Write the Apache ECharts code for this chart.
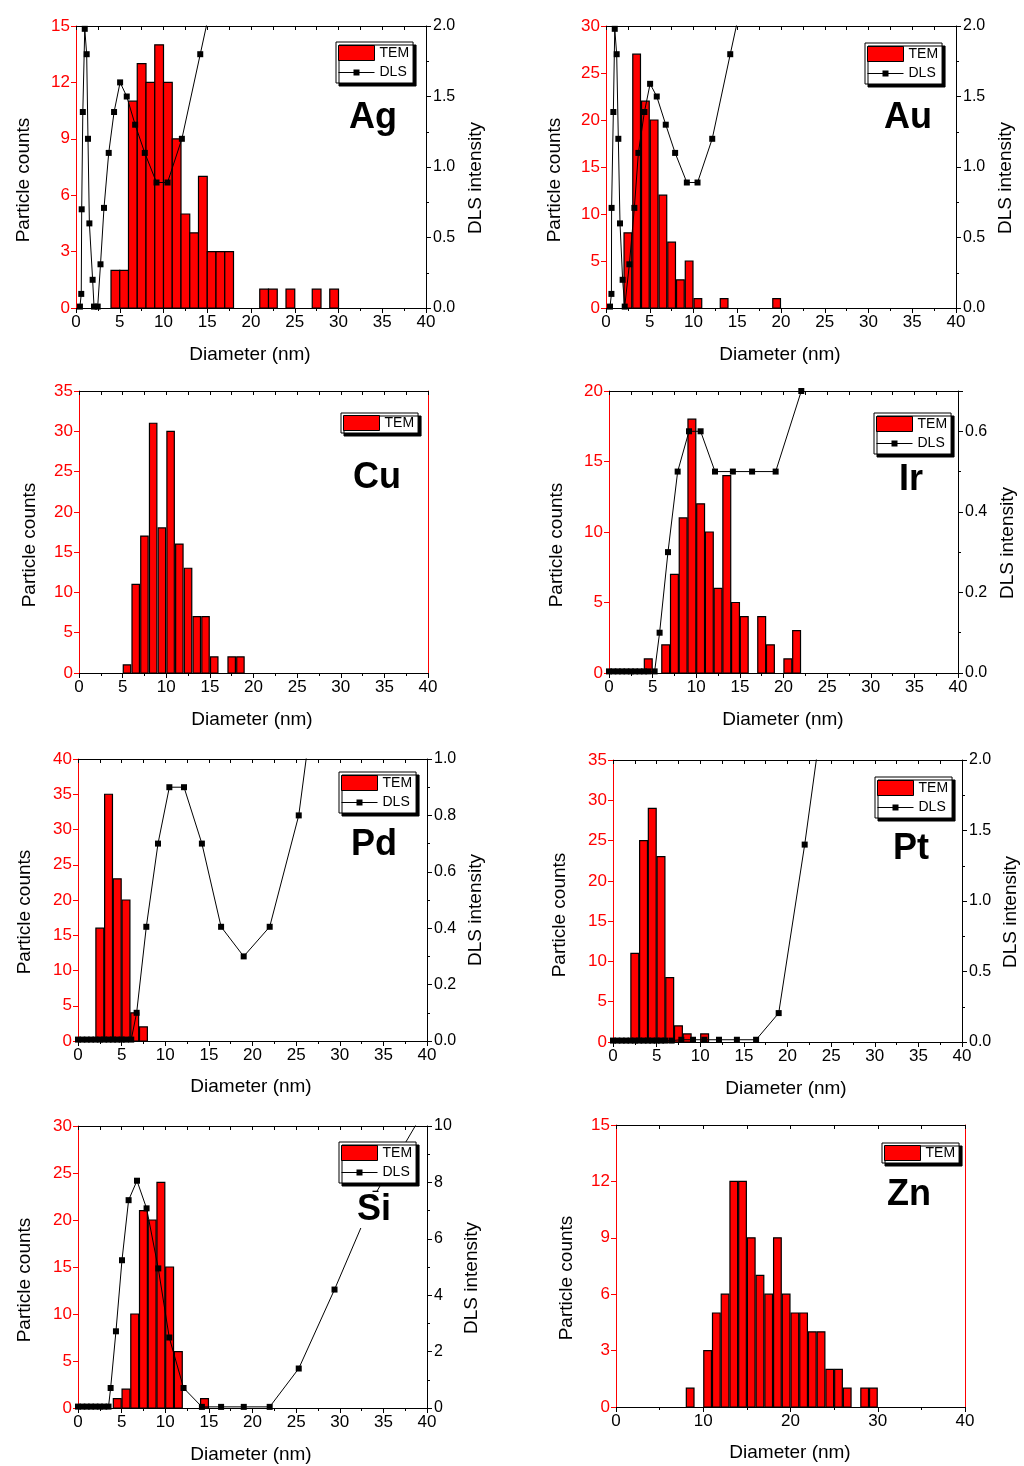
<!DOCTYPE html>
<html>
<head>
<meta charset="utf-8">
<script src="https://cdn.jsdelivr.net/npm/echarts@6/dist/echarts.min.js"></script>
<style>
html,body{margin:0;padding:0;background:#fff;}
#chart{width:1024px;height:1466px;}
</style>
</head>
<body>
<div id="chart"></div>
<script>
// ---------- DATA (bin left edge in nm, counts; DLS points) ----------
const agBins   = [4,5,6,7,8,9,10,11,12,13,14,15,16,17,21,22,24,27,29];
const agCounts = [2,2,11,13,12,14,12,9,5,4,7,3,3,3,1,1,1,1,1];
const agDlsX = [0.45,0.6,0.65,0.78,1.0,1.22,1.37,1.53,1.9,2.06,2.48,2.8,3.2,3.74,4.35,5.04,5.8,6.76,7.86,9.2,10.46,12.1,14.2,15.6];
const agDlsY = [0.01,0.1,0.7,1.39,1.98,1.8,1.2,0.6,0.2,0.01,0.01,0.31,0.71,1.1,1.39,1.6,1.5,1.3,1.1,0.89,0.89,1.2,1.8,2.2];

const auBins   = [2,3,4,5,6,7,8,9,10,13,19];
const auCounts = [8,27,22,20,12,7,3,5,1,1,1];
const auDlsX = [0.46,0.62,0.64,0.84,1.0,1.22,1.41,1.6,1.9,2.14,2.67,3.24,3.7,4.39,5.04,5.8,6.83,7.9,9.24,10.46,12.14,14.2,15.6];
const auDlsY = [0.01,0.1,0.71,1.39,1.98,1.8,1.2,0.6,0.2,0.01,0.31,0.71,1.1,1.39,1.59,1.5,1.3,1.1,0.89,0.89,1.2,1.8,2.2];

const cuBins   = [5,6,7,8,9,10,11,12,13,14,15,17,18];
const cuCounts = [1,11,17,31,18,30,16,13,7,7,2,2,2];

const irBins   = [4,6,7,8,9,10,11,12,13,14,15,17,18,20,21];
const irCounts = [1,2,7,11,18,12,10,6,14,5,4,4,2,1,3];
const irDlsX = [0,0.5,1,1.5,2,2.5,3,3.5,4,4.5,5.23,5.8,6.76,7.87,9.17,10.5,12.15,14.2,16.4,19.1,22.04,23.5];
const irDlsY = [0.004,0.004,0.004,0.004,0.004,0.004,0.004,0.004,0.004,0.004,0.004,0.1,0.3,0.5,0.6,0.6,0.5,0.5,0.5,0.5,0.7,0.85];

const pdBins   = [2,3,4,5,6,7];
const pdCounts = [16,35,23,20,4,2];
const pdDlsX = [0,0.5,1,1.5,2,2.5,3,3.5,4,4.5,5,5.5,6.1,6.72,7.83,9.17,10.47,12.15,14.2,16.4,18.99,21.97,25.3,27];
const pdDlsY = [0.005,0.005,0.005,0.005,0.005,0.005,0.005,0.005,0.005,0.005,0.005,0.005,0.005,0.1,0.405,0.7,0.9,0.9,0.7,0.405,0.3,0.405,0.8,1.2];

const ptBins   = [2,3,4,5,6,7,8,10];
const ptCounts = [11,25,29,23,8,2,1,1];
const ptDlsX = [0,0.5,1,1.5,2,2.5,3,3.5,4,4.5,5,5.5,6,6.72,7.83,9.17,10.47,12.15,14.2,16.4,18.99,21.97,25.3];
const ptDlsY = [0.01,0.01,0.01,0.01,0.01,0.01,0.01,0.01,0.01,0.01,0.01,0.01,0.01,0.01,0.016,0.016,0.016,0.016,0.016,0.016,0.205,1.4,2.9];

const siBins   = [4,5,6,7,8,9,10,11,14];
const siCounts = [1,2,10,21,20,24,15,6,1];
const siDlsX = [0,0.5,1,1.5,2,2.5,3,3.5,3.74,4.35,5.04,5.8,6.76,7.86,9.2,10.46,12.1,14.2,16.4,19.0,21.97,25.3,29.4,34.1,39.6];
const siDlsY = [0.05,0.05,0.05,0.05,0.05,0.05,0.05,0.05,0.71,2.72,5.24,7.37,8.06,7.08,4.95,2.5,0.71,0.04,0.04,0.04,0.04,1.4,4.2,7.6,10.5];

const znBins   = [8,10,11,12,13,14,15,16,17,18,19,20,21,22,23,24,25,26,28,29];
const znCounts = [1,3,5,6,12,12,9,7,6,9,6,5,5,4,4,2,2,1,1,1];

// ---------- TEXT ----------
const xTitle = 'Diameter (nm)';
const yTitle = 'Particle counts';
const rTitle = 'DLS intensity';

// ---------- LAYOUT / STYLE ----------
const FONT = '"Liberation Sans", Arial, sans-serif';
const RED = '#ff0000';
// legend icon for DLS: thin line with a small square marker (36x15 box)
const DLS_ICON = 'path://M0,0L0.01,0L0,0.01ZM36,15L35.99,15L36,14.99ZM0,7L15,7L15,4.5L21,4.5L21,7L36,7L36,8L21,8L21,10.5L15,10.5L15,8L0,8Z';

const panels = [
  {name:'Ag', grid:[76,26,350,282], bins:agBins, counts:agCounts, dx:agDlsX, dy:agDlsY, yMax:15, yInt:3, rMax:2, rInt:0.5, rDec:1, xInt:5, gap:0,
   leg:[336,42], lab:[373,118], pc:[24,180], dl:[476,178], dm:[250,355]},
  {name:'Au', grid:[606,26,350,282], bins:auBins, counts:auCounts, dx:auDlsX, dy:auDlsY, yMax:30, yInt:5, rMax:2, rInt:0.5, rDec:1, xInt:5, gap:0.12,
   leg:[865,43], lab:[908,118], pc:[555,180], dl:[1006,178], dm:[780,355]},
  {name:'Cu', grid:[79,391,349,282], bins:cuBins, counts:cuCounts, dx:null, yMax:35, yInt:5, xInt:5, gap:0.15,
   leg:[341,413], lab:[377,478], pc:[30,545], dm:[252,720]},
  {name:'Ir', grid:[609,391,349,282], bins:irBins, counts:irCounts, dx:irDlsX, dy:irDlsY, yMax:20, yInt:5, rMax:0.7, rInt:0.2, rDec:1, xInt:5, gap:0.1,
   leg:[874,413], lab:[911,480], pc:[557,545], dl:[1008,543], dm:[783,720]},
  {name:'Pd', grid:[78,759,349,282], bins:pdBins, counts:pdCounts, dx:pdDlsX, dy:pdDlsY, yMax:40, yInt:5, rMax:1, rInt:0.2, rDec:1, xInt:5, gap:0.1,
   leg:[339,772], lab:[374,845], pc:[25,912], dl:[476,910], dm:[251,1087]},
  {name:'Pt', grid:[613,760,349,282], bins:ptBins, counts:ptCounts, dx:ptDlsX, dy:ptDlsY, yMax:35, yInt:5, rMax:2, rInt:0.5, rDec:1, xInt:5, gap:0.1,
   leg:[875,777], lab:[911,849], pc:[560,915], dl:[1011,912], dm:[786,1089]},
  {name:'Si', grid:[78,1126,349,282], bins:siBins, counts:siCounts, dx:siDlsX, dy:siDlsY, yMax:30, yInt:5, rMax:10, rInt:2, rDec:0, xInt:5, gap:0.1,
   leg:[339,1142], lab:[374,1210], pc:[25,1280], dl:[472,1278], dm:[251,1455]},
  {name:'Zn', grid:[616,1125,349,282], bins:znBins, counts:znCounts, dx:null, yMax:15, yInt:3, xInt:10, gap:0.12,
   leg:[882,1143], lab:[909,1195], pc:[567,1278], dm:[790,1453]}
];

const grids = [], xAxes = [], yAxes = [], series = [], legends = [], graphics = [];

panels.forEach((p, i) => {
  const hasDls = !!p.dx;
  grids.push({left:p.grid[0], top:p.grid[1], width:p.grid[2], height:p.grid[3], containLabel:false});

  xAxes.push({
    gridIndex:i, type:'value', position:'bottom', min:0, max:40, interval:p.xInt,
    axisLine:{show:true, onZero:false, lineStyle:{color:'#000', width:1}},
    axisTick:{show:true, length:5, lineStyle:{color:'#000'}},
    minorTick:{show:true, splitNumber:2, length:3, lineStyle:{color:'#000'}},
    axisLabel:{color:'#000', fontSize:17, fontFamily:FONT, margin:6},
    splitLine:{show:false}, minorSplitLine:{show:false}
  });
  xAxes.push({
    gridIndex:i, type:'value', position:'top', min:0, max:40, interval:p.xInt/2,
    axisLine:{show:true, onZero:false, lineStyle:{color:'#000', width:1}},
    axisTick:{show:true, inside:true, length:4, lineStyle:{color:'#000'}},
    axisLabel:{show:false}, splitLine:{show:false}
  });
  yAxes.push({
    gridIndex:i, type:'value', position:'left', min:0, max:p.yMax, interval:p.yInt,
    axisLine:{show:true, onZero:false, lineStyle:{color:RED, width:1}},
    axisTick:{show:true, length:5, lineStyle:{color:RED}},
    axisLabel:{color:RED, fontSize:17, fontFamily:FONT, margin:6},
    splitLine:{show:false}
  });
  if (hasDls) {
    const dec = p.rDec;
    yAxes.push({
      gridIndex:i, type:'value', position:'right', min:0, max:p.rMax, interval:p.rInt,
      axisLine:{show:true, onZero:false, lineStyle:{color:'#000', width:1}},
      axisTick:{show:true, length:5, lineStyle:{color:'#000'}},
      minorTick:{show:true, splitNumber:2, length:3, lineStyle:{color:'#000'}},
      axisLabel:{color:'#000', fontSize:16, fontFamily:FONT, margin:7,
        showMaxLabel: (Math.abs(p.rMax/p.rInt - Math.round(p.rMax/p.rInt)) < 1e-9),
        formatter: v => Number(v).toFixed(dec)},
      splitLine:{show:false}, minorSplitLine:{show:false}
    });
  } else {
    yAxes.push({
      gridIndex:i, type:'value', position:'right', min:0, max:1,
      axisLine:{show:true, onZero:false, lineStyle:{color:RED, width:1}},
      axisTick:{show:false}, axisLabel:{show:false}, splitLine:{show:false}
    });
  }

  const gap = p.gap;
  series.push({
    type:'custom', name:'TEM', xAxisIndex:2*i, yAxisIndex:2*i, z:2, silent:true,
    data: p.bins.map((b, k) => [b, b + 1, p.counts[k]]),
    encode:{x:[0,1], y:2},
    itemStyle:{color:RED, borderColor:'#000', borderWidth:1.2},
    renderItem: function (params, api) {
      const x0 = api.value(0) + gap/2, x1 = api.value(1) - gap/2, c = api.value(2);
      const a = api.coord([x0, c]);
      const b = api.coord([x1, 0]);
      return {type:'rect', shape:{x:a[0], y:a[1], width:b[0]-a[0], height:b[1]-a[1]},
              style:{fill:RED, stroke:'#000', lineWidth:1.2}};
    }
  });

  if (hasDls) {
    series.push({
      type:'line', name:'DLS', xAxisIndex:2*i, yAxisIndex:2*i+1, z:3, silent:true,
      data: p.dx.map((x, k) => [x, p.dy[k]]),
      symbol:'rect', symbolSize:6, showAllSymbol:true, clip:true,
      lineStyle:{color:'#000', width:1}, itemStyle:{color:'#000'},
      emphasis:{disabled:true}
    });
  }

  const legData = [{name:'TEM', icon:'rect', itemStyle:{color:RED, borderColor:'#000', borderWidth:1}}];
  if (hasDls) legData.push({name:'DLS', icon:DLS_ICON, itemStyle:{color:'#000', borderWidth:0}});
  legends.push({
    data: legData, orient:'vertical', left:p.leg[0], top:p.leg[1],
    itemWidth:36, itemHeight:15, itemGap:4, padding:hasDls ? [3,4,3,2] : [2,4,2,2],
    backgroundColor:'#fff', borderColor:'#000', borderWidth:1,
    shadowColor:'#000', shadowOffsetX:3, shadowOffsetY:3, shadowBlur:0,
    selectedMode:false,
    textStyle:{fontFamily:FONT, fontSize:14, color:'#000'}
  });

  graphics.push({type:'text', x:p.lab[0], y:p.lab[1], silent:true, z:10,
    style:{text:p.name, font:'bold 36px ' + FONT, fill:'#000', backgroundColor:'#fff', padding:[0,2],
           align:'center', verticalAlign:'middle', textAlign:'center', textVerticalAlign:'middle'}});
  graphics.push({type:'text', x:p.pc[0], y:p.pc[1], rotation:Math.PI/2, silent:true,
    style:{text:yTitle, font:'19px ' + FONT, fill:'#000', align:'center', verticalAlign:'middle', textAlign:'center', textVerticalAlign:'middle'}});
  graphics.push({type:'text', x:p.dm[0], y:p.dm[1], silent:true,
    style:{text:xTitle, font:'19px ' + FONT, fill:'#000', align:'center', verticalAlign:'middle', textAlign:'center', textVerticalAlign:'middle'}});
  if (hasDls) {
    graphics.push({type:'text', x:p.dl[0], y:p.dl[1], rotation:Math.PI/2, silent:true,
      style:{text:rTitle, font:'19px ' + FONT, fill:'#000', align:'center', verticalAlign:'middle', textAlign:'center', textVerticalAlign:'middle'}});
  }
});

const chart = echarts.init(document.getElementById('chart'), null, {renderer:'canvas', width:1024, height:1466});
chart.setOption({
  backgroundColor:'#fff',
  animation:false,
  textStyle:{fontFamily:FONT},
  grid:grids, xAxis:xAxes, yAxis:yAxes, series:series, legend:legends, graphic:graphics
});
</script>
</body>
</html>
